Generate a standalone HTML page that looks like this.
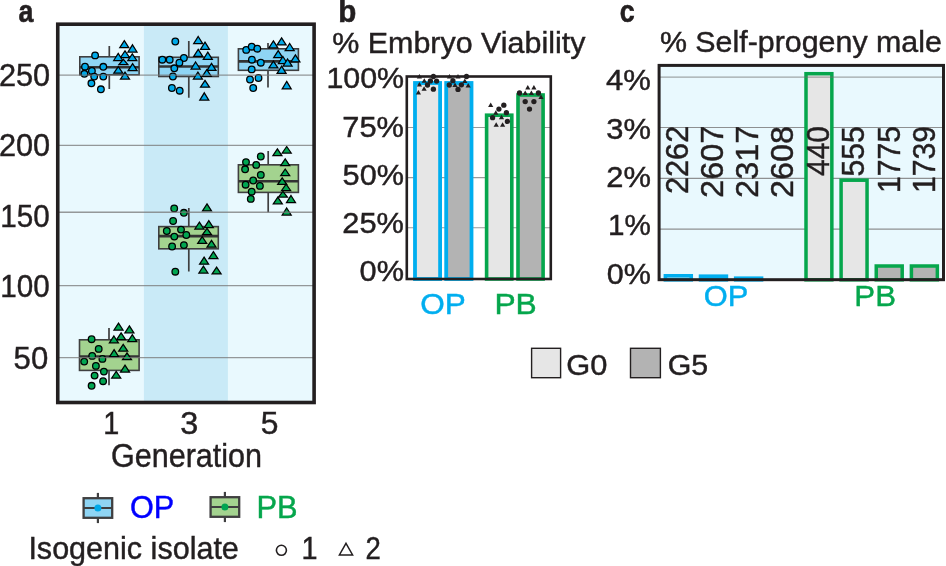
<!DOCTYPE html>
<html><head><meta charset="utf-8"><title>Figure</title>
<style>
html,body{margin:0;padding:0;background:#fff;}
body{width:946px;height:566px;overflow:hidden;}
svg{display:block;font-family:"Liberation Sans",sans-serif;}
</style></head><body>
<svg width="946" height="566" viewBox="0 0 946 566">
<rect width="946" height="566" fill="#fff"/>
<rect x="57.75" y="24.2" width="256.35" height="378.3" fill="#e9f9fe"/>
<rect x="143.9" y="24.2" width="84.0" height="378.3" fill="#c9eaf7"/>
<path d="M109.3 45.9V56.8M109.3 74.8V88.9" stroke="#3f3f40" stroke-width="1.7" fill="none"/><rect x="79.8" y="56.8" width="59.3" height="18.0" fill="#8fd5f4" stroke="#3f3f40" stroke-width="1.6"/><path d="M79.8 67.2H139.1" stroke="#333" stroke-width="2.6"/>
<circle cx="95.1" cy="55.4" r="3.3" fill="#00a9e8" stroke="#000" stroke-width="1.3"/>
<circle cx="85.0" cy="66.7" r="3.3" fill="#00a9e8" stroke="#000" stroke-width="1.3"/>
<circle cx="103.3" cy="66.8" r="3.3" fill="#00a9e8" stroke="#000" stroke-width="1.3"/>
<circle cx="91.9" cy="70.9" r="3.3" fill="#00a9e8" stroke="#000" stroke-width="1.3"/>
<circle cx="84.4" cy="73.8" r="3.3" fill="#00a9e8" stroke="#000" stroke-width="1.3"/>
<circle cx="94.2" cy="76.6" r="3.3" fill="#00a9e8" stroke="#000" stroke-width="1.3"/>
<circle cx="103.3" cy="76.6" r="3.3" fill="#00a9e8" stroke="#000" stroke-width="1.3"/>
<circle cx="91.4" cy="83.3" r="3.3" fill="#00a9e8" stroke="#000" stroke-width="1.3"/>
<circle cx="100.9" cy="89.3" r="3.3" fill="#00a9e8" stroke="#000" stroke-width="1.3"/>
<path d="M124.3 40.7L128.8 47.7L119.8 47.7Z" fill="#00a9e8" stroke="#000" stroke-width="1.25" stroke-linejoin="miter"/>
<path d="M132.5 44.8L137.0 52.0L128.0 52.0Z" fill="#00a9e8" stroke="#000" stroke-width="1.25" stroke-linejoin="miter"/>
<path d="M125.0 50.9L129.5 57.5L120.5 57.5Z" fill="#00a9e8" stroke="#000" stroke-width="1.25" stroke-linejoin="miter"/>
<path d="M118.2 53.4L122.7 60.5L113.7 60.5Z" fill="#00a9e8" stroke="#000" stroke-width="1.25" stroke-linejoin="miter"/>
<path d="M132.3 53.8L136.8 60.5L127.8 60.5Z" fill="#00a9e8" stroke="#000" stroke-width="1.25" stroke-linejoin="miter"/>
<path d="M123.4 59.3L127.9 64.7L118.9 64.7Z" fill="#00a9e8" stroke="#000" stroke-width="1.25" stroke-linejoin="miter"/>
<path d="M132.6 63.6L137.1 70.6L128.1 70.6Z" fill="#00a9e8" stroke="#000" stroke-width="1.25" stroke-linejoin="miter"/>
<path d="M118.3 66.6L122.8 73.2L113.8 73.2Z" fill="#00a9e8" stroke="#000" stroke-width="1.25" stroke-linejoin="miter"/>
<path d="M125.0 72.1L129.5 79.1L120.5 79.1Z" fill="#00a9e8" stroke="#000" stroke-width="1.25" stroke-linejoin="miter"/>
<path d="M188.8 41V57.3M188.8 76.5V97.7" stroke="#3f3f40" stroke-width="1.7" fill="none"/><rect x="158.8" y="57.3" width="59.5" height="19.200000000000003" fill="#8fd5f4" stroke="#3f3f40" stroke-width="1.6"/><path d="M158.8 66.5H218.3" stroke="#333" stroke-width="2.6"/>
<circle cx="175.3" cy="41.5" r="3.3" fill="#00a9e8" stroke="#000" stroke-width="1.3"/>
<circle cx="162.3" cy="59.7" r="3.3" fill="#00a9e8" stroke="#000" stroke-width="1.3"/>
<circle cx="169.7" cy="59.7" r="3.3" fill="#00a9e8" stroke="#000" stroke-width="1.3"/>
<circle cx="183.9" cy="58.0" r="3.3" fill="#00a9e8" stroke="#000" stroke-width="1.3"/>
<circle cx="179.4" cy="62.7" r="3.3" fill="#00a9e8" stroke="#000" stroke-width="1.3"/>
<circle cx="174.3" cy="68.3" r="3.3" fill="#00a9e8" stroke="#000" stroke-width="1.3"/>
<circle cx="172.9" cy="76.5" r="3.3" fill="#00a9e8" stroke="#000" stroke-width="1.3"/>
<circle cx="171.9" cy="88.0" r="3.3" fill="#00a9e8" stroke="#000" stroke-width="1.3"/>
<circle cx="179.7" cy="90.7" r="3.3" fill="#00a9e8" stroke="#000" stroke-width="1.3"/>
<path d="M198.2 36.5L202.7 43.6L193.7 43.6Z" fill="#00a9e8" stroke="#000" stroke-width="1.25" stroke-linejoin="miter"/>
<path d="M205.0 42.1L209.5 49.3L200.5 49.3Z" fill="#00a9e8" stroke="#000" stroke-width="1.25" stroke-linejoin="miter"/>
<path d="M198.2 49.3L202.7 56.3L193.7 56.3Z" fill="#00a9e8" stroke="#000" stroke-width="1.25" stroke-linejoin="miter"/>
<path d="M207.8 52.2L212.3 59.3L203.3 59.3Z" fill="#00a9e8" stroke="#000" stroke-width="1.25" stroke-linejoin="miter"/>
<path d="M195.6 62.0L200.1 69.0L191.1 69.0Z" fill="#00a9e8" stroke="#000" stroke-width="1.25" stroke-linejoin="miter"/>
<path d="M211.5 63.3L216.0 70.3L207.0 70.3Z" fill="#00a9e8" stroke="#000" stroke-width="1.25" stroke-linejoin="miter"/>
<path d="M206.8 69.6L211.3 76.3L202.3 76.3Z" fill="#00a9e8" stroke="#000" stroke-width="1.25" stroke-linejoin="miter"/>
<path d="M197.9 72.1L202.4 79.0L193.4 79.0Z" fill="#00a9e8" stroke="#000" stroke-width="1.25" stroke-linejoin="miter"/>
<path d="M205.0 80.3L209.5 87.2L200.5 87.2Z" fill="#00a9e8" stroke="#000" stroke-width="1.25" stroke-linejoin="miter"/>
<path d="M204.3 92.8L208.8 100.1L199.8 100.1Z" fill="#00a9e8" stroke="#000" stroke-width="1.25" stroke-linejoin="miter"/>
<path d="M268 43.1V48.8M268 70.3V87.6" stroke="#3f3f40" stroke-width="1.7" fill="none"/><rect x="238.4" y="48.8" width="59.99999999999997" height="21.5" fill="#8fd5f4" stroke="#3f3f40" stroke-width="1.6"/><path d="M238.4 61.4H298.4" stroke="#333" stroke-width="2.6"/>
<circle cx="246.2" cy="49.9" r="3.3" fill="#00a9e8" stroke="#000" stroke-width="1.3"/>
<circle cx="251.7" cy="46.7" r="3.3" fill="#00a9e8" stroke="#000" stroke-width="1.3"/>
<circle cx="257.3" cy="48.7" r="3.3" fill="#00a9e8" stroke="#000" stroke-width="1.3"/>
<circle cx="251.9" cy="59.7" r="3.3" fill="#00a9e8" stroke="#000" stroke-width="1.3"/>
<circle cx="260.8" cy="62.7" r="3.3" fill="#00a9e8" stroke="#000" stroke-width="1.3"/>
<circle cx="251.7" cy="69.4" r="3.3" fill="#00a9e8" stroke="#000" stroke-width="1.3"/>
<circle cx="250.0" cy="79.5" r="3.3" fill="#00a9e8" stroke="#000" stroke-width="1.3"/>
<circle cx="258.5" cy="78.0" r="3.3" fill="#00a9e8" stroke="#000" stroke-width="1.3"/>
<circle cx="253.2" cy="88.0" r="3.3" fill="#00a9e8" stroke="#000" stroke-width="1.3"/>
<path d="M273.4 40.8L277.9 47.8L268.9 47.8Z" fill="#00a9e8" stroke="#000" stroke-width="1.25" stroke-linejoin="miter"/>
<path d="M281.6 37.8L286.1 44.9L277.1 44.9Z" fill="#00a9e8" stroke="#000" stroke-width="1.25" stroke-linejoin="miter"/>
<path d="M289.7 43.5L294.2 50.6L285.2 50.6Z" fill="#00a9e8" stroke="#000" stroke-width="1.25" stroke-linejoin="miter"/>
<path d="M278.2 50.7L282.7 57.6L273.7 57.6Z" fill="#00a9e8" stroke="#000" stroke-width="1.25" stroke-linejoin="miter"/>
<path d="M282.9 56.5L287.4 63.5L278.4 63.5Z" fill="#00a9e8" stroke="#000" stroke-width="1.25" stroke-linejoin="miter"/>
<path d="M295.4 54.8L299.9 61.8L290.9 61.8Z" fill="#00a9e8" stroke="#000" stroke-width="1.25" stroke-linejoin="miter"/>
<path d="M287.6 59.0L292.1 66.1L283.1 66.1Z" fill="#00a9e8" stroke="#000" stroke-width="1.25" stroke-linejoin="miter"/>
<path d="M273.4 61.1L277.9 67.9L268.9 67.9Z" fill="#00a9e8" stroke="#000" stroke-width="1.25" stroke-linejoin="miter"/>
<path d="M281.6 66.2L286.1 73.3L277.1 73.3Z" fill="#00a9e8" stroke="#000" stroke-width="1.25" stroke-linejoin="miter"/>
<path d="M286.7 81.4L291.2 88.9L282.2 88.9Z" fill="#00a9e8" stroke="#000" stroke-width="1.25" stroke-linejoin="miter"/>
<path d="M109 328.1V339.8M109 370.4V385.2" stroke="#3f3f40" stroke-width="1.7" fill="none"/><rect x="79.5" y="339.8" width="59.599999999999994" height="30.599999999999966" fill="#a3d38f" stroke="#3f3f40" stroke-width="1.6"/><path d="M79.5 356.5H139.1" stroke="#333" stroke-width="2.6"/>
<circle cx="91.6" cy="339.2" r="3.3" fill="#00a551" stroke="#000" stroke-width="1.3"/>
<circle cx="98.7" cy="348.9" r="3.3" fill="#00a551" stroke="#000" stroke-width="1.3"/>
<circle cx="92.2" cy="355.9" r="3.3" fill="#00a551" stroke="#000" stroke-width="1.3"/>
<circle cx="102.4" cy="358.9" r="3.3" fill="#00a551" stroke="#000" stroke-width="1.3"/>
<circle cx="84.2" cy="361.6" r="3.3" fill="#00a551" stroke="#000" stroke-width="1.3"/>
<circle cx="95.9" cy="365.9" r="3.3" fill="#00a551" stroke="#000" stroke-width="1.3"/>
<circle cx="103.9" cy="371.6" r="3.3" fill="#00a551" stroke="#000" stroke-width="1.3"/>
<circle cx="94.6" cy="375.6" r="3.3" fill="#00a551" stroke="#000" stroke-width="1.3"/>
<circle cx="103.1" cy="381.2" r="3.3" fill="#00a551" stroke="#000" stroke-width="1.3"/>
<circle cx="91.6" cy="385.8" r="3.3" fill="#00a551" stroke="#000" stroke-width="1.3"/>
<path d="M118.5 323.1L123.0 330.0L114.0 330.0Z" fill="#00a551" stroke="#000" stroke-width="1.25" stroke-linejoin="miter"/>
<path d="M129.4 325.8L133.9 332.8L124.9 332.8Z" fill="#00a551" stroke="#000" stroke-width="1.25" stroke-linejoin="miter"/>
<path d="M121.1 332.8L125.6 339.6L116.6 339.6Z" fill="#00a551" stroke="#000" stroke-width="1.25" stroke-linejoin="miter"/>
<path d="M113.9 336.0L118.4 342.8L109.4 342.8Z" fill="#00a551" stroke="#000" stroke-width="1.25" stroke-linejoin="miter"/>
<path d="M132.3 334.7L136.8 341.6L127.8 341.6Z" fill="#00a551" stroke="#000" stroke-width="1.25" stroke-linejoin="miter"/>
<path d="M123.2 344.3L127.7 351.1L118.7 351.1Z" fill="#00a551" stroke="#000" stroke-width="1.25" stroke-linejoin="miter"/>
<path d="M114.1 349.7L118.6 356.6L109.6 356.6Z" fill="#00a551" stroke="#000" stroke-width="1.25" stroke-linejoin="miter"/>
<path d="M127.0 352.9L131.5 359.7L122.5 359.7Z" fill="#00a551" stroke="#000" stroke-width="1.25" stroke-linejoin="miter"/>
<path d="M125.0 365.2L129.5 372.1L120.5 372.1Z" fill="#00a551" stroke="#000" stroke-width="1.25" stroke-linejoin="miter"/>
<path d="M116.2 371.4L120.7 378.0L111.7 378.0Z" fill="#00a551" stroke="#000" stroke-width="1.25" stroke-linejoin="miter"/>
<path d="M188.8 208.1V226.6M188.8 248.8V271.6" stroke="#3f3f40" stroke-width="1.7" fill="none"/><rect x="158.8" y="226.6" width="59.5" height="22.200000000000017" fill="#a3d38f" stroke="#3f3f40" stroke-width="1.6"/><path d="M158.8 236.1H218.3" stroke="#333" stroke-width="2.6"/>
<circle cx="174.2" cy="208.4" r="3.3" fill="#00a551" stroke="#000" stroke-width="1.3"/>
<circle cx="183.9" cy="212.8" r="3.3" fill="#00a551" stroke="#000" stroke-width="1.3"/>
<circle cx="173.1" cy="221.0" r="3.3" fill="#00a551" stroke="#000" stroke-width="1.3"/>
<circle cx="166.8" cy="231.0" r="3.3" fill="#00a551" stroke="#000" stroke-width="1.3"/>
<circle cx="181.0" cy="229.6" r="3.3" fill="#00a551" stroke="#000" stroke-width="1.3"/>
<circle cx="186.3" cy="235.0" r="3.3" fill="#00a551" stroke="#000" stroke-width="1.3"/>
<circle cx="174.3" cy="236.6" r="3.3" fill="#00a551" stroke="#000" stroke-width="1.3"/>
<circle cx="183.9" cy="245.1" r="3.3" fill="#00a551" stroke="#000" stroke-width="1.3"/>
<circle cx="172.1" cy="246.5" r="3.3" fill="#00a551" stroke="#000" stroke-width="1.3"/>
<circle cx="175.3" cy="271.7" r="3.3" fill="#00a551" stroke="#000" stroke-width="1.3"/>
<path d="M207.0 203.9L211.5 210.9L202.5 210.9Z" fill="#00a551" stroke="#000" stroke-width="1.25" stroke-linejoin="miter"/>
<path d="M199.4 222.1L203.9 229.0L194.9 229.0Z" fill="#00a551" stroke="#000" stroke-width="1.25" stroke-linejoin="miter"/>
<path d="M208.8 220.6L213.3 227.7L204.3 227.7Z" fill="#00a551" stroke="#000" stroke-width="1.25" stroke-linejoin="miter"/>
<path d="M207.0 228.3L211.5 234.6L202.5 234.6Z" fill="#00a551" stroke="#000" stroke-width="1.25" stroke-linejoin="miter"/>
<path d="M202.2 236.6L206.7 243.4L197.7 243.4Z" fill="#00a551" stroke="#000" stroke-width="1.25" stroke-linejoin="miter"/>
<path d="M211.5 240.3L216.0 247.2L207.0 247.2Z" fill="#00a551" stroke="#000" stroke-width="1.25" stroke-linejoin="miter"/>
<path d="M213.4 251.6L217.9 258.6L208.9 258.6Z" fill="#00a551" stroke="#000" stroke-width="1.25" stroke-linejoin="miter"/>
<path d="M204.1 257.1L208.6 264.2L199.6 264.2Z" fill="#00a551" stroke="#000" stroke-width="1.25" stroke-linejoin="miter"/>
<path d="M203.4 266.2L207.9 273.0L198.9 273.0Z" fill="#00a551" stroke="#000" stroke-width="1.25" stroke-linejoin="miter"/>
<path d="M216.6 267.1L221.1 273.9L212.1 273.9Z" fill="#00a551" stroke="#000" stroke-width="1.25" stroke-linejoin="miter"/>
<path d="M268.2 151V164.8M268.2 192.4V212.3" stroke="#3f3f40" stroke-width="1.7" fill="none"/><rect x="238.4" y="164.8" width="59.99999999999997" height="27.599999999999994" fill="#a3d38f" stroke="#3f3f40" stroke-width="1.6"/><path d="M238.4 181.3H298.4" stroke="#333" stroke-width="2.6"/>
<circle cx="260.8" cy="156.5" r="3.3" fill="#00a551" stroke="#000" stroke-width="1.3"/>
<circle cx="246.0" cy="162.1" r="3.3" fill="#00a551" stroke="#000" stroke-width="1.3"/>
<circle cx="256.2" cy="164.9" r="3.3" fill="#00a551" stroke="#000" stroke-width="1.3"/>
<circle cx="245.1" cy="169.3" r="3.3" fill="#00a551" stroke="#000" stroke-width="1.3"/>
<circle cx="260.8" cy="174.9" r="3.3" fill="#00a551" stroke="#000" stroke-width="1.3"/>
<circle cx="253.2" cy="180.5" r="3.3" fill="#00a551" stroke="#000" stroke-width="1.3"/>
<circle cx="245.6" cy="184.7" r="3.3" fill="#00a551" stroke="#000" stroke-width="1.3"/>
<circle cx="259.9" cy="185.9" r="3.3" fill="#00a551" stroke="#000" stroke-width="1.3"/>
<circle cx="251.7" cy="191.7" r="3.3" fill="#00a551" stroke="#000" stroke-width="1.3"/>
<circle cx="250.8" cy="198.9" r="3.3" fill="#00a551" stroke="#000" stroke-width="1.3"/>
<path d="M277.4 148.8L281.9 155.7L272.9 155.7Z" fill="#00a551" stroke="#000" stroke-width="1.25" stroke-linejoin="miter"/>
<path d="M286.7 146.5L291.2 153.0L282.2 153.0Z" fill="#00a551" stroke="#000" stroke-width="1.25" stroke-linejoin="miter"/>
<path d="M285.2 158.8L289.7 165.7L280.7 165.7Z" fill="#00a551" stroke="#000" stroke-width="1.25" stroke-linejoin="miter"/>
<path d="M285.2 169.0L289.7 175.6L280.7 175.6Z" fill="#00a551" stroke="#000" stroke-width="1.25" stroke-linejoin="miter"/>
<path d="M282.2 177.9L286.7 184.3L277.7 184.3Z" fill="#00a551" stroke="#000" stroke-width="1.25" stroke-linejoin="miter"/>
<path d="M286.1 184.2L290.6 190.5L281.6 190.5Z" fill="#00a551" stroke="#000" stroke-width="1.25" stroke-linejoin="miter"/>
<path d="M282.9 191.4L287.4 197.0L278.4 197.0Z" fill="#00a551" stroke="#000" stroke-width="1.25" stroke-linejoin="miter"/>
<path d="M277.8 197.2L282.3 203.8L273.3 203.8Z" fill="#00a551" stroke="#000" stroke-width="1.25" stroke-linejoin="miter"/>
<path d="M291.0 195.5L295.5 202.7L286.5 202.7Z" fill="#00a551" stroke="#000" stroke-width="1.25" stroke-linejoin="miter"/>
<path d="M286.7 208.0L291.2 215.0L282.2 215.0Z" fill="#00a551" stroke="#000" stroke-width="1.25" stroke-linejoin="miter"/>
<path d="M57.75 75.1H314.1" stroke="#777" stroke-opacity="0.75" stroke-width="1.4"/>
<path d="M57.75 145.4H314.1" stroke="#777" stroke-opacity="0.75" stroke-width="1.4"/>
<path d="M57.75 212.3H314.1" stroke="#777" stroke-opacity="0.75" stroke-width="1.4"/>
<path d="M57.75 285.6H314.1" stroke="#777" stroke-opacity="0.75" stroke-width="1.4"/>
<path d="M57.75 357.6H314.1" stroke="#777" stroke-opacity="0.75" stroke-width="1.4"/>
<rect x="57.75" y="24.2" width="256.35" height="378.3" fill="none" stroke="#231f20" stroke-width="3.6"/>
<text transform="translate(-1.11 85.6) scale(0.9724 1)" fill="#231f20" stroke="#231f20" stroke-width="0.45" font-size="31.6">250</text>
<text transform="translate(-1.11 155.6) scale(0.9724 1)" fill="#231f20" stroke="#231f20" stroke-width="0.45" font-size="31.6">200</text>
<text transform="translate(0.25 226.6) scale(0.9381 1)" fill="#231f20" stroke="#231f20" stroke-width="0.45" font-size="31.6">150</text>
<text transform="translate(0.25 296.7) scale(0.9381 1)" fill="#231f20" stroke="#231f20" stroke-width="0.45" font-size="31.6">100</text>
<text transform="translate(13.58 368.6) scale(0.9847 1)" fill="#231f20" stroke="#231f20" stroke-width="0.45" font-size="31.6">50</text>
<text transform="translate(103.22 434.4) scale(0.9300 1)" fill="#231f20" stroke="#231f20" stroke-width="0.45" font-size="31">1</text>
<text transform="translate(180.13 434.4) scale(1.0467 1)" fill="#231f20" stroke="#231f20" stroke-width="0.45" font-size="31">3</text>
<text transform="translate(260.65 434.4) scale(1.0261 1)" fill="#231f20" stroke="#231f20" stroke-width="0.45" font-size="31">5</text>
<text transform="translate(110.90 466.5) scale(0.9180 1)" fill="#231f20" stroke="#231f20" stroke-width="0.45" font-size="33.3">Generation</text>
<text transform="translate(18.60 22.1) scale(0.8373 1)" fill="#231f20" stroke="#231f20" stroke-width="0.6" font-size="32" font-weight="bold">a</text>
<text transform="translate(338.23 21.8) scale(0.9250 1)" fill="#231f20" stroke="#231f20" stroke-width="0.6" font-size="32" font-weight="bold">b</text>
<text transform="translate(619.73 22.0) scale(0.8355 1)" fill="#231f20" stroke="#231f20" stroke-width="0.6" font-size="32" font-weight="bold">c</text>
<path d="M97.9 492.9V523.1" stroke="#3f3f40" stroke-width="2.2"/><rect x="83.60000000000001" y="498.2" width="28.599999999999994" height="19.6" fill="#8fd5f4" stroke="#3f3f40" stroke-width="2.3"/><path d="M83.60000000000001 508H112.2" stroke="#3f3f40" stroke-width="2"/><circle cx="97.9" cy="508" r="3.5" fill="#00a9e8"/>
<path d="M224.9 491.9V522.1" stroke="#3f3f40" stroke-width="2.2"/><rect x="210.6" y="497.2" width="28.600000000000023" height="19.6" fill="#a3d38f" stroke="#3f3f40" stroke-width="2.3"/><path d="M210.6 507.0H239.20000000000002" stroke="#3f3f40" stroke-width="2"/><circle cx="224.9" cy="507.0" r="3.5" fill="#00a551"/>
<text transform="translate(129.99 518.45) scale(0.9756 1)" fill="#0000ff" stroke="#0000ff" stroke-width="0.45" font-size="31.4">OP</text>
<text transform="translate(256.56 518.2) scale(0.9806 1)" fill="#05a64c" stroke="#05a64c" stroke-width="0.45" font-size="31.4">PB</text>
<text transform="translate(28.38 559.3) scale(0.9548 1)" fill="#231f20" stroke="#231f20" stroke-width="0.45" font-size="32">Isogenic isolate</text>
<circle cx="281.4" cy="550.3" r="5" fill="#fff" stroke="#231f20" stroke-width="1.6"/>
<text transform="translate(301.62 558.5) scale(0.9300 1)" fill="#231f20" stroke="#231f20" stroke-width="0.45" font-size="31">1</text>
<path d="M346 543.3L352.6 555H339.4Z" fill="#fff" stroke="#231f20" stroke-width="1.5"/>
<text transform="translate(365.45 558.5) scale(0.8871 1)" fill="#231f20" stroke="#231f20" stroke-width="0.45" font-size="31">2</text>
<text transform="translate(332.31 52.7) scale(1.0211 1)" fill="#231f20" stroke="#231f20" stroke-width="0.45" font-size="29.8">% Embryo Viability</text>
<path d="M406.8 127.5H550.8" stroke="#9a9a9a" stroke-width="1.1"/>
<path d="M406.8 177.6H550.8" stroke="#9a9a9a" stroke-width="1.1"/>
<path d="M406.8 227.8H550.8" stroke="#9a9a9a" stroke-width="1.1"/>
<rect x="415" y="83" width="25.100000000000023" height="196" fill="#e6e6e6" stroke="#00aeef" stroke-width="3.8"/>
<rect x="446.2" y="83" width="25.30000000000001" height="196" fill="#b3b3b3" stroke="#00aeef" stroke-width="3.8"/>
<rect x="486.6" y="115.2" width="25.19999999999999" height="163.8" fill="#e6e6e6" stroke="#05a64c" stroke-width="3.6"/>
<rect x="518" y="95" width="25.100000000000023" height="184" fill="#b3b3b3" stroke="#05a64c" stroke-width="3.6"/>
<rect x="406.8" y="76.5" width="143.99999999999994" height="202.5" fill="none" stroke="#231f20" stroke-width="2.6"/>
<path d="M419.4 74.0L422.0 78.5H416.79999999999995Z" fill="#231f20"/>
<path d="M424.3 78.2L426.90000000000003 82.7H421.7Z" fill="#231f20"/>
<path d="M419.4 82.0L422.0 86.5H416.79999999999995Z" fill="#231f20"/>
<path d="M424.1 86.3L426.70000000000005 90.8H421.5Z" fill="#231f20"/>
<path d="M418.4 90.1L421.0 94.6H415.79999999999995Z" fill="#231f20"/>
<path d="M449.5 74.0L452.1 78.5H446.9Z" fill="#231f20"/>
<path d="M458 74.0L460.6 78.5H455.4Z" fill="#231f20"/>
<path d="M464.8 78.6L467.40000000000003 83.1H462.2Z" fill="#231f20"/>
<path d="M455 82.5L457.6 87H452.4Z" fill="#231f20"/>
<path d="M468.2 82.9L470.8 87.4H465.59999999999997Z" fill="#231f20"/>
<path d="M490.7 102.5L493.3 107H488.09999999999997Z" fill="#231f20"/>
<path d="M495.8 110.2L498.40000000000003 114.7H493.2Z" fill="#231f20"/>
<path d="M501.5 114.8L504.1 119.3H498.9Z" fill="#231f20"/>
<path d="M496.2 122.3L498.8 126.8H493.59999999999997Z" fill="#231f20"/>
<path d="M502.6 122.3L505.20000000000005 126.8H500.0Z" fill="#231f20"/>
<path d="M527.8 85.0L530.4 89.5H525.1999999999999Z" fill="#231f20"/>
<path d="M533.9 85.0L536.5 89.5H531.3Z" fill="#231f20"/>
<path d="M525.2 90.6L527.8000000000001 95.1H522.6Z" fill="#231f20"/>
<path d="M531.4 90.6L534.0 95.1H528.8Z" fill="#231f20"/>
<path d="M541 94.5L543.6 99H538.4Z" fill="#231f20"/>
<circle cx="433.4" cy="76.5" r="2.65" fill="#231f20"/>
<circle cx="430.4" cy="80.9" r="2.65" fill="#231f20"/>
<circle cx="436.6" cy="81.1" r="2.65" fill="#231f20"/>
<circle cx="427.5" cy="85" r="2.65" fill="#231f20"/>
<circle cx="433.4" cy="89.2" r="2.65" fill="#231f20"/>
<circle cx="466.5" cy="76.5" r="2.65" fill="#231f20"/>
<circle cx="452.9" cy="80.7" r="2.65" fill="#231f20"/>
<circle cx="449.3" cy="85" r="2.65" fill="#231f20"/>
<circle cx="461.4" cy="84.8" r="2.65" fill="#231f20"/>
<circle cx="458" cy="89.4" r="2.65" fill="#231f20"/>
<circle cx="503.8" cy="105.2" r="2.65" fill="#231f20"/>
<circle cx="498.9" cy="109.1" r="2.65" fill="#231f20"/>
<circle cx="506.4" cy="112.7" r="2.65" fill="#231f20"/>
<circle cx="492.6" cy="117.7" r="2.65" fill="#231f20"/>
<circle cx="507.4" cy="121.4" r="2.65" fill="#231f20"/>
<circle cx="519.5" cy="93" r="2.65" fill="#231f20"/>
<circle cx="538.4" cy="93" r="2.65" fill="#231f20"/>
<circle cx="525.2" cy="101.6" r="2.65" fill="#231f20"/>
<circle cx="533.9" cy="101.6" r="2.65" fill="#231f20"/>
<circle cx="529.5" cy="109.1" r="2.65" fill="#231f20"/>
<text transform="translate(326.39 87.9) scale(1.0130 1)" fill="#231f20" stroke="#231f20" stroke-width="0.45" font-size="30">100%</text>
<text transform="translate(342.28 136.9) scale(1.0269 1)" fill="#231f20" stroke="#231f20" stroke-width="0.45" font-size="30">75%</text>
<text transform="translate(342.60 185.0) scale(1.0216 1)" fill="#231f20" stroke="#231f20" stroke-width="0.45" font-size="30">50%</text>
<text transform="translate(342.29 233.0) scale(1.0252 1)" fill="#231f20" stroke="#231f20" stroke-width="0.45" font-size="30">25%</text>
<text transform="translate(359.60 280.9) scale(1.0231 1)" fill="#231f20" stroke="#231f20" stroke-width="0.45" font-size="30">0%</text>
<text transform="translate(420.25 313.6) scale(1.0510 1)" fill="#00aeef" stroke="#00aeef" stroke-width="0.45" font-size="30">OP</text>
<text transform="translate(494.38 313.6) scale(1.0597 1)" fill="#05a64c" stroke="#05a64c" stroke-width="0.45" font-size="30">PB</text>
<rect x="531.6" y="348.3" width="29" height="29.4" fill="#e6e6e6" stroke="#231f20" stroke-width="1.4"/>
<rect x="630.5" y="348.3" width="29.9" height="29.4" fill="#b3b3b3" stroke="#231f20" stroke-width="1.4"/>
<text transform="translate(566.28 375.2) scale(1.0282 1)" fill="#231f20" stroke="#231f20" stroke-width="0.45" font-size="30">G0</text>
<text transform="translate(667.71 375.2) scale(1.0121 1)" fill="#231f20" stroke="#231f20" stroke-width="0.45" font-size="30">G5</text>
<text transform="translate(659.91 52.4) scale(1.0200 1)" fill="#231f20" stroke="#231f20" stroke-width="0.45" font-size="29.8">% Self-progeny male</text>
<rect x="659.1" y="65.4" width="284.4" height="214.29999999999998" fill="#e9f9fe"/>
<path d="M659.1 127.5H943.5" stroke="#8e9091" stroke-width="1.2"/>
<path d="M659.1 178.3H943.5" stroke="#8e9091" stroke-width="1.2"/>
<path d="M659.1 229.1H943.5" stroke="#8e9091" stroke-width="1.2"/>
<rect x="665.4" y="275.8" width="25.850000000000023" height="4.0" fill="#e6e6e6" stroke="#00aeef" stroke-width="3.6"/>
<rect x="700.55" y="276.2" width="25.850000000000023" height="3.6000000000000227" fill="#b3b3b3" stroke="#00aeef" stroke-width="3.6"/>
<rect x="735.7" y="278.2" width="25.84999999999991" height="1.6000000000000227" fill="#e6e6e6" stroke="#00aeef" stroke-width="3.6"/>
<rect x="806.0" y="73.7" width="25.850000000000023" height="206.10000000000002" fill="#e6e6e6" stroke="#05a64c" stroke-width="3.5"/>
<rect x="841.1" y="180.2" width="25.949999999999932" height="99.60000000000002" fill="#e6e6e6" stroke="#05a64c" stroke-width="3.5"/>
<rect x="876.25" y="266" width="25.950000000000045" height="13.800000000000011" fill="#b3b3b3" stroke="#05a64c" stroke-width="3.5"/>
<rect x="911.4" y="266" width="25.950000000000045" height="13.800000000000011" fill="#b3b3b3" stroke="#05a64c" stroke-width="3.5"/>
<path d="M659.1 77.1H943.5" stroke="#6e6e6e" stroke-opacity="0.6" stroke-width="1.4"/>
<rect x="659.1" y="65.4" width="284.4" height="214.29999999999998" fill="none" stroke="#231f20" stroke-width="3.0"/>
<text transform="translate(688.0 194.01) rotate(-90) scale(1.0027 1)" fill="#231f20" stroke="#231f20" stroke-width="0.45" font-size="30.6">2262</text>
<text transform="translate(723.3 197.90) rotate(-90) scale(1.0613 1)" fill="#231f20" stroke="#231f20" stroke-width="0.45" font-size="30.6">2607</text>
<text transform="translate(758.0 197.90) rotate(-90) scale(1.0613 1)" fill="#231f20" stroke="#231f20" stroke-width="0.45" font-size="30.6">2317</text>
<text transform="translate(793.3 197.89) rotate(-90) scale(1.0563 1)" fill="#231f20" stroke="#231f20" stroke-width="0.45" font-size="30.6">2608</text>
<text transform="translate(829.3 175.97) rotate(-90) scale(0.9773 1)" fill="#231f20" stroke="#231f20" stroke-width="0.45" font-size="30.6">440</text>
<text transform="translate(864.4 176.59) rotate(-90) scale(0.9896 1)" fill="#231f20" stroke="#231f20" stroke-width="0.45" font-size="30.6">555</text>
<text transform="translate(899.5 192.99) rotate(-90) scale(0.9858 1)" fill="#231f20" stroke="#231f20" stroke-width="0.45" font-size="30.6">1775</text>
<text transform="translate(934.5 192.99) rotate(-90) scale(0.9858 1)" fill="#231f20" stroke="#231f20" stroke-width="0.45" font-size="30.6">1739</text>
<text transform="translate(606.10 90.4) scale(1.0348 1)" fill="#231f20" stroke="#231f20" stroke-width="0.45" font-size="30">4%</text>
<text transform="translate(606.31 138.7) scale(1.0300 1)" fill="#231f20" stroke="#231f20" stroke-width="0.45" font-size="30">3%</text>
<text transform="translate(606.31 187.0) scale(1.0300 1)" fill="#231f20" stroke="#231f20" stroke-width="0.45" font-size="30">2%</text>
<text transform="translate(608.05 235.2) scale(0.9887 1)" fill="#231f20" stroke="#231f20" stroke-width="0.45" font-size="30">1%</text>
<text transform="translate(606.80 283.6) scale(1.0182 1)" fill="#231f20" stroke="#231f20" stroke-width="0.45" font-size="30">0%</text>
<text transform="translate(703.68 306.4) scale(1.0286 1)" fill="#00aeef" stroke="#00aeef" stroke-width="0.45" font-size="30">OP</text>
<text transform="translate(854.33 306.2) scale(1.0403 1)" fill="#05a64c" stroke="#05a64c" stroke-width="0.45" font-size="30">PB</text>
</svg>
</body></html>
